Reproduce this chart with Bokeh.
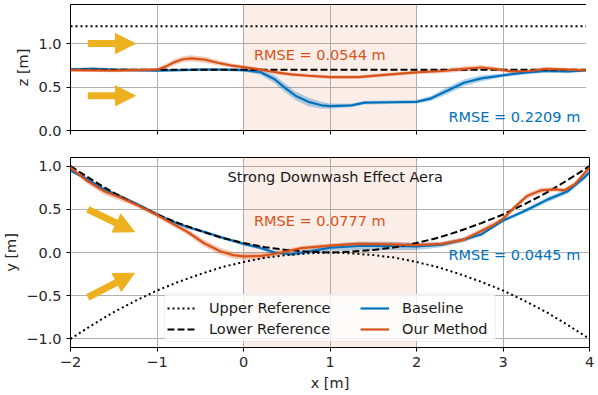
from bokeh.plotting import figure
from bokeh.models import (BoxAnnotation, Arrow, NormalHead, Legend, LegendItem,
                          FixedTicker, Range1d, Label, ColumnDataSource, CustomLabelingPolicy)
from bokeh.layouts import column
from bokeh.embed import file_html
from bokeh.resources import INLINE

FONT = "DejaVu Sans"
FS = "14.5px"
BLUE = "#0072BD"
ORANGE = "#D95319"
YELLOW = "#EDB120"
GRID = "#b0b0b0"

# ---------------- ticks ----------------
x_ticks = [-2, -1, 0, 1, 2, 3, 4]
x_tick_labels = ["\u22122", "\u22121", "0", "1", "2", "3", "4"]
z_ticks = [0.0, 0.5, 1.0]
z_tick_labels = ["0.0", "0.5", "1.0"]
y_ticks = [-1.0, -0.5, 0.0, 0.5, 1.0]
y_tick_labels = ["\u22121.0", "\u22120.5", "0.0", "0.5", "1.0"]

# shaded "strong downwash" region
region_x = [0.0, 2.0]

# ---------------- top panel (z) ----------------
top_ref_x = [-2.0, 4.0]
top_upper_ref = [1.2, 1.2]
top_lower_ref = [0.7, 0.7]

top_base_x = [-2.0, -1.75, -1.5, -1.25, -1.0, -0.75, -0.5, -0.25, 0.0, 0.2, 0.36, 0.48,
              0.6, 0.75, 0.9, 1.0, 1.25, 1.4, 1.7, 2.0, 2.17, 2.36, 2.55, 2.75, 3.0,
              3.25, 3.5, 3.75, 4.0]
top_base_z = [0.70, 0.71, 0.70, 0.695, 0.69, 0.695, 0.70, 0.70, 0.695, 0.67, 0.59, 0.49,
              0.40, 0.33, 0.29, 0.28, 0.29, 0.32, 0.325, 0.33, 0.37, 0.46, 0.55, 0.60, 0.635,
              0.665, 0.685, 0.68, 0.695]
top_base_band = [0.015, 0.02, 0.015, 0.015, 0.015, 0.015, 0.015, 0.015, 0.02, 0.03, 0.045, 0.05,
                 0.05, 0.05, 0.04, 0.03, 0.02, 0.02, 0.02, 0.02, 0.03, 0.04, 0.04, 0.035, 0.02,
                 0.02, 0.02, 0.02, 0.015]

top_ours_x = [-2.0, -1.5, -1.0, -0.9, -0.8, -0.7, -0.6, -0.45, -0.3, -0.15, 0.0, 0.2, 0.4,
              0.55, 0.75, 1.0, 1.33, 1.7, 2.0, 2.3, 2.55, 2.75, 2.9, 3.1, 3.3, 3.5, 3.75, 4.0]
top_ours_z = [0.695, 0.69, 0.70, 0.735, 0.785, 0.82, 0.83, 0.815, 0.78, 0.75, 0.73, 0.70, 0.665,
              0.645, 0.63, 0.615, 0.615, 0.645, 0.67, 0.685, 0.71, 0.725, 0.71, 0.68, 0.685,
              0.71, 0.70, 0.69]
top_ours_band = [0.02, 0.02, 0.02, 0.03, 0.035, 0.035, 0.035, 0.035, 0.03, 0.025, 0.02, 0.02, 0.02,
                 0.02, 0.02, 0.02, 0.02, 0.02, 0.02, 0.025, 0.03, 0.03, 0.025, 0.02, 0.02,
                 0.025, 0.02, 0.02]

top_arrow_x0 = [-1.80, -1.80]
top_arrow_x1 = [-1.25, -1.25]
top_arrow_z0 = [1.0, 0.40]
top_arrow_z1 = [1.0, 0.40]

# ---------------- bottom panel (y) ----------------
ref_x = [-2.0, -1.75, -1.5, -1.25, -1.0, -0.75, -0.5, -0.25, 0.0, 0.25, 0.5, 0.75, 1.0,
         1.25, 1.5, 1.75, 2.0, 2.25, 2.5, 2.75, 3.0, 3.25, 3.5, 3.75, 4.0]
lower_ref_y = [1.0, 0.84, 0.69, 0.56, 0.44, 0.34, 0.25, 0.17, 0.11, 0.06, 0.03, 0.01, 0.0,
               0.01, 0.03, 0.06, 0.11, 0.17, 0.25, 0.34, 0.44, 0.56, 0.69, 0.84, 1.0]
upper_ref_y = [-1.0, -0.84, -0.69, -0.56, -0.44, -0.34, -0.25, -0.17, -0.11, -0.06, -0.03, -0.01, 0.0,
               -0.01, -0.03, -0.06, -0.11, -0.17, -0.25, -0.34, -0.44, -0.56, -0.69, -0.84, -1.0]

bot_base_x = [-2.0, -1.81, -1.61, -1.42, -1.23, -1.0, -0.84, -0.65, -0.46, -0.27, 0.0, 0.17,
              0.36, 0.55, 0.75, 1.0, 1.33, 1.71, 2.0, 2.29, 2.55, 2.75, 3.0, 3.25, 3.52,
              3.75, 3.94, 4.0]
bot_base_y = [0.95, 0.85, 0.73, 0.645, 0.56, 0.44, 0.365, 0.295, 0.24, 0.18, 0.10, 0.06,
              0.0, -0.02, 0.01, 0.055, 0.075, 0.075, 0.07, 0.09, 0.15, 0.21, 0.37, 0.48, 0.615,
              0.71, 0.87, 0.93]
bot_base_band = [0.02, 0.02, 0.02, 0.02, 0.02, 0.02, 0.02, 0.02, 0.02, 0.02, 0.02, 0.02,
                 0.02, 0.02, 0.025, 0.035, 0.05, 0.05, 0.04, 0.03, 0.025, 0.02, 0.02, 0.025, 0.03,
                 0.03, 0.03, 0.03]

bot_ours_x = [-2.0, -1.81, -1.61, -1.42, -1.23, -1.0, -0.84, -0.65, -0.46, -0.27, -0.12, 0.0,
              0.21, 0.44, 0.67, 1.0, 1.33, 1.71, 2.0, 2.29, 2.55, 2.75, 2.9, 3.0, 3.13, 3.28,
              3.44, 3.6, 3.71, 3.83, 4.0]
bot_ours_y = [0.985, 0.83, 0.71, 0.635, 0.55, 0.435, 0.345, 0.24, 0.11, 0.015, -0.03, -0.045,
              -0.04, 0.0, 0.05, 0.08, 0.10, 0.095, 0.085, 0.10, 0.15, 0.25, 0.325, 0.39, 0.52,
              0.655, 0.72, 0.73, 0.72, 0.79, 0.985]
bot_ours_band = [0.025, 0.03, 0.04, 0.04, 0.03, 0.03, 0.03, 0.035, 0.04, 0.04, 0.04, 0.04,
                 0.035, 0.03, 0.025, 0.025, 0.025, 0.025, 0.025, 0.025, 0.03, 0.035, 0.035, 0.03,
                 0.03, 0.03, 0.03, 0.025, 0.025, 0.025, 0.025]

bot_arrow_x0 = [-1.80, -1.80]
bot_arrow_x1 = [-1.26, -1.26]
bot_arrow_y0 = [0.50, -0.52]
bot_arrow_y1 = [0.24, -0.24]

NO_LABELS = CustomLabelingPolicy(code="""
for (const i of indices) { indices.unset(i) }
return indices
""")


def style(p, yticks, ylabels, ylabel, show_x_labels):
    p.outline_line_color = "black"
    p.outline_line_width = 1
    p.outline_line_alpha = 1
    p.background_fill_color = "white"
    p.border_fill_color = "white"
    for ax in (p.xaxis[0], p.yaxis[0]):
        ax.axis_line_color = None
        ax.major_tick_in = 0
        ax.major_tick_out = 4
        ax.major_tick_line_color = "black"
        ax.minor_tick_line_color = None
        ax.major_label_text_font = FONT
        ax.major_label_text_font_size = FS
        ax.major_label_text_color = "#262626"
        ax.axis_label_text_font = FONT
        ax.axis_label_text_font_size = FS
        ax.axis_label_text_font_style = "normal"
        ax.axis_label_text_color = "#262626"
    p.xaxis.ticker = FixedTicker(ticks=x_ticks)
    p.yaxis.ticker = FixedTicker(ticks=yticks)
    p.yaxis.major_label_overrides = dict(zip(yticks, ylabels))
    p.yaxis.axis_label = ylabel
    p.yaxis.major_label_standoff = 5
    p.yaxis.axis_label_standoff = 4
    if show_x_labels:
        p.xaxis.major_label_overrides = dict(zip(x_ticks, x_tick_labels))
        p.xaxis.axis_label = "x [m]"
        p.xaxis.major_label_standoff = 5
        p.xaxis.axis_label_standoff = 5
    else:
        p.xaxis.major_label_policy = NO_LABELS
        p.xaxis.major_label_standoff = 0
    p.xgrid.ticker = FixedTicker(ticks=x_ticks)
    p.ygrid.ticker = FixedTicker(ticks=yticks)
    for g in (p.xgrid[0], p.ygrid[0]):
        g.grid_line_color = GRID
        g.grid_line_width = 1


def band(p, xs, ys, ws, color):
    lo = [y - w for y, w in zip(ys, ws)]
    hi = [y + w for y, w in zip(ys, ws)]
    p.varea(x=xs, y1=lo, y2=hi, fill_color=color, fill_alpha=0.3)


def arrows(p, x0, y0, x1, y1):
    src = ColumnDataSource(dict(x0=x0, y0=y0, x1=x1, y1=y1))
    p.add_layout(Arrow(end=NormalHead(size=20, fill_color=YELLOW, line_color=YELLOW, line_width=1),
                       x_start="x0", y_start="y0", x_end="x1", y_end="y1", source=src,
                       line_color=YELLOW, line_width=7, line_cap="butt"))


LEFT = 61
RIGHT = 6

# ---------------- top figure ----------------
top = figure(frame_width=519, frame_height=126, min_border_left=LEFT, min_border_right=RIGHT,
             min_border_top=4, min_border_bottom=16, x_range=Range1d(-2, 4), y_range=Range1d(0, 1.45),
             output_backend="svg", toolbar_location=None)
style(top, z_ticks, z_tick_labels, "z [m]", False)
top.add_layout(BoxAnnotation(left=region_x[0], right=region_x[1], fill_color=ORANGE,
                             fill_alpha=0.1, line_color=None, level="underlay"))
band(top, top_base_x, top_base_z, top_base_band, BLUE)
band(top, top_ours_x, top_ours_z, top_ours_band, ORANGE)
top.line(top_base_x, top_base_z, line_color=BLUE, line_width=2.2)
top.line(top_ref_x, top_upper_ref, line_color="black", line_width=2, line_dash="2 3")
top.line(top_ref_x, top_lower_ref, line_color="black", line_width=2, line_dash="7 3")
top.line(top_ours_x, top_ours_z, line_color=ORANGE, line_width=2.2)
arrows(top, top_arrow_x0, top_arrow_z0, top_arrow_x1, top_arrow_z1)
top.add_layout(Label(x=0.12, y=0.865, text="RMSE = 0.0544 m", text_color=ORANGE,
                     text_font=FONT, text_font_size=FS, text_baseline="middle"))
top.add_layout(Label(x=2.37, y=0.16, text="RMSE = 0.2209 m", text_color=BLUE,
                     text_font=FONT, text_font_size=FS, text_baseline="middle"))

# ---------------- bottom figure ----------------
bot = figure(frame_width=519, frame_height=190, min_border_left=LEFT, min_border_right=RIGHT,
             min_border_top=10, min_border_bottom=40, x_range=Range1d(-2, 4), y_range=Range1d(-1.1, 1.1),
             output_backend="svg", toolbar_location=None)
style(bot, y_ticks, y_tick_labels, "y [m]", True)
bot.add_layout(BoxAnnotation(left=region_x[0], right=region_x[1], fill_color=ORANGE,
                             fill_alpha=0.1, line_color=None, level="underlay"))
band(bot, bot_base_x, bot_base_y, bot_base_band, BLUE)
band(bot, bot_ours_x, bot_ours_y, bot_ours_band, ORANGE)
r_base = bot.line(bot_base_x, bot_base_y, line_color=BLUE, line_width=2.2)
r_up = bot.line(ref_x, upper_ref_y, line_color="black", line_width=2, line_dash="2 3")
r_lo = bot.line(ref_x, lower_ref_y, line_color="black", line_width=2, line_dash="7 3")
r_ours = bot.line(bot_ours_x, bot_ours_y, line_color=ORANGE, line_width=2.2)
arrows(bot, bot_arrow_x0, bot_arrow_y0, bot_arrow_x1, bot_arrow_y1)
bot.add_layout(Label(x=1.06, y=0.87, text="Strong Downwash Effect Aera", text_color="#1a1a1a",
                     text_font=FONT, text_font_size=FS, text_baseline="middle", text_align="center"))
bot.add_layout(Label(x=0.12, y=0.365, text="RMSE = 0.0777 m", text_color=ORANGE,
                     text_font=FONT, text_font_size=FS, text_baseline="middle"))
bot.add_layout(Label(x=2.37, y=-0.03, text="RMSE = 0.0445 m", text_color=BLUE,
                     text_font=FONT, text_font_size=FS, text_baseline="middle"))

# legend frame (one box behind two legend columns)
bot.add_layout(BoxAnnotation(left=-0.913, right=2.913, top=-0.48, bottom=-1.03,
                             fill_color="white", fill_alpha=0.8, line_color="#cccccc",
                             line_width=1, border_radius=3))
leg_kw = dict(glyph_width=29, glyph_height=18, label_height=18, label_standoff=13,
              spacing=3, padding=3, margin=0, label_text_font=FONT, label_text_font_size=FS,
              label_text_color="#1a1a1a", border_line_color=None, background_fill_alpha=0)
bot.add_layout(Legend(items=[LegendItem(label="Upper Reference", renderers=[r_up]),
                             LegendItem(label="Lower Reference", renderers=[r_lo])],
                      location=(97, 9), **leg_kw))
bot.add_layout(Legend(items=[LegendItem(label="Baseline", renderers=[r_base]),
                             LegendItem(label="Our Method", renderers=[r_ours])],
                      location=(290, 9), **leg_kw))

layout = column(top, bot)
open("out.html", "w").write(file_html(layout, INLINE))
